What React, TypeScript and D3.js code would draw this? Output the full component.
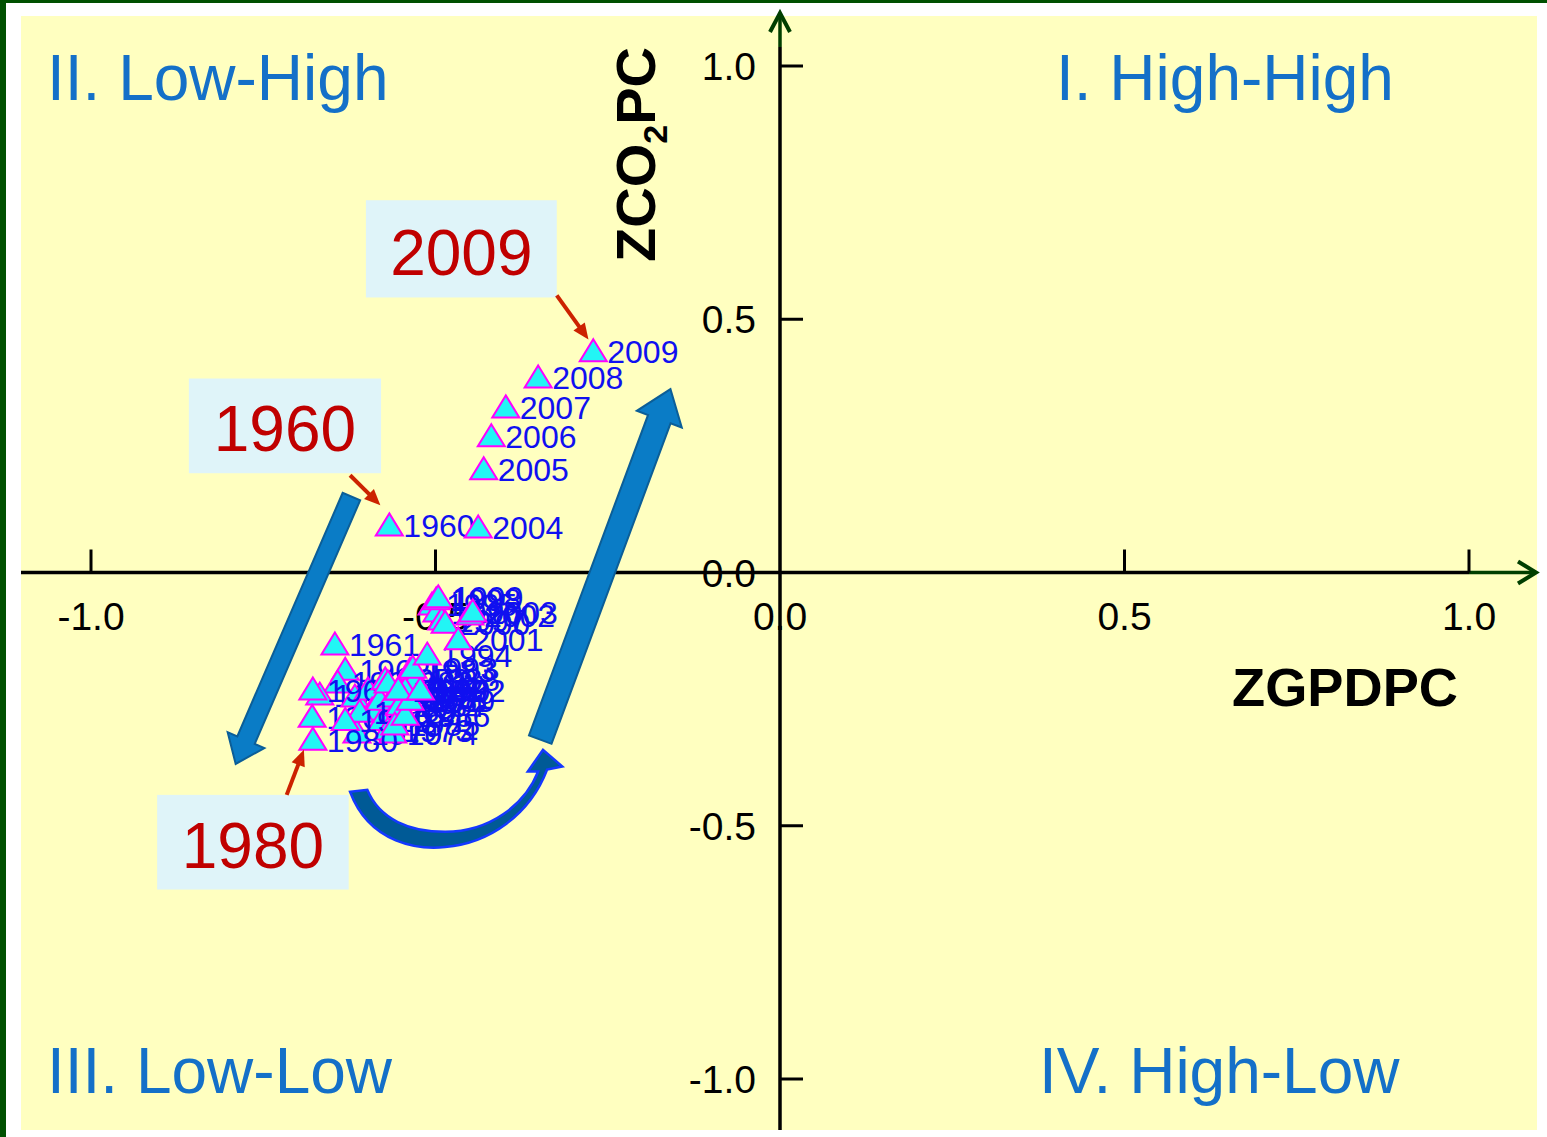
import React from "react";
import * as d3 from "d3";

// ---------- data ----------
const years: number[] = [
  1960, 1961, 1962, 1963, 1964, 1965, 1966, 1967, 1968, 1969,
  1970, 1971, 1972, 1973, 1974, 1975, 1976, 1977, 1978, 1979,
  1980, 1981, 1982, 1983, 1984, 1985, 1986, 1987, 1988, 1989,
  1990, 1991, 1992, 1993, 1994, 1995, 1996, 1997, 1998, 1999,
  2000, 2001, 2002, 2003, 2004, 2005, 2006, 2007, 2008, 2009,
];
const zgdppc: number[] = [
  -0.567, -0.646, -0.631, -0.642, -0.668, -0.617, -0.598, -0.678, -0.679, -0.592,
  -0.614, -0.578, -0.573, -0.569, -0.562, -0.581, -0.549, -0.562, -0.61, -0.631,
  -0.678, -0.541, -0.569, -0.537, -0.552, -0.559, -0.544, -0.552, -0.53, -0.537,
  -0.544, -0.554, -0.522, -0.533, -0.512, -0.505, -0.498, -0.491, -0.499, -0.496,
  -0.486, -0.467, -0.45, -0.446, -0.438, -0.43, -0.419, -0.398, -0.351, -0.271,
];
const zco2pc: number[] = [
  0.093, -0.142, -0.192, -0.217, -0.241, -0.245, -0.231, -0.231, -0.285, -0.271,
  -0.316, -0.291, -0.211, -0.31, -0.316, -0.251, -0.251, -0.245, -0.275, -0.291,
  -0.33, -0.245, -0.217, -0.192, -0.261, -0.3, -0.281, -0.231, -0.211, -0.251,
  -0.231, -0.231, -0.231, -0.188, -0.162, -0.063, -0.077, -0.093, -0.053, -0.049,
  -0.099, -0.132, -0.083, -0.077, 0.089, 0.204, 0.269, 0.326, 0.385, 0.437,
];
const xTickValues: number[] = [-1.0, -0.5, 0.0, 0.5, 1.0];
const yTickValues: number[] = [-1.0, -0.5, 0.0, 0.5, 1.0];
const quadrantLabels: string[] = ["II. Low-High", "I. High-High", "III. Low-Low", "IV. High-Low"];
const calloutYears: string[] = ["2009", "1960", "1980"];

// ---------- annotation geometry (in data units) ----------
const calloutBoxes = [
  { x0: -0.601, x1: -0.324, y0: 0.735, y1: 0.543 },
  { x0: -0.858, x1: -0.579, y0: 0.383, y1: 0.196 },
  { x0: -0.904, x1: -0.626, y0: -0.439, y1: -0.626 },
];
const calloutArrows = [
  { from: [-0.324, 0.547], to: [-0.278, 0.46] },
  { from: [-0.624, 0.192], to: [-0.58, 0.133] },
  { from: [-0.716, -0.439], to: [-0.691, -0.35] },
];
const bigArrows = [
  { tail: [-0.622, 0.15], tip: [-0.79, -0.378], w: 19, hw: 40, hl: 26 },
  { tail: [-0.348, -0.33], tip: [-0.159, 0.362], w: 24, hw: 48, hl: 32 },
];
const curvedArrow: number[][] = [
  [-0.624, -0.433], [-0.595, -0.538], [-0.522, -0.547], [-0.486, -0.542],
  [-0.421, -0.534], [-0.363, -0.478], [-0.338, -0.389],
  [-0.316, -0.383], [-0.344, -0.35], [-0.366, -0.393], [-0.351, -0.393],
  [-0.37, -0.458], [-0.421, -0.512], [-0.486, -0.512],
  [-0.537, -0.512], [-0.581, -0.488], [-0.599, -0.429],
];

const FONT = "'Liberation Sans', Arial, Helvetica, sans-serif";

export default function App() {
  const W = 1547;
  const H = 1137;
  const x = d3.scaleLinear().domain([-1, 1]).range([91, 1469]);
  const y = d3.scaleLinear().domain([-1, 1]).range([1079, 66]);
  const f1 = d3.format(".1f");
  const fmt = (v: number) => f1(v).replace("\u2212", "-");
  const x0 = x(0);
  const y0 = y(0);

  const plotL = 21, plotT = 16, plotR = 1537, plotB = 1130;

  const tri = (cx: number, cy: number) =>
    `M${cx},${cy - 12}L${cx + 13.5},${cy + 10}L${cx - 13.5},${cy + 10}Z`;

  const arrowPoly = (a: any) => {
    const tx = x(a.tail[0]), ty = y(a.tail[1]);
    const px = x(a.tip[0]), py = y(a.tip[1]);
    const dx = px - tx, dy = py - ty;
    const len = Math.hypot(dx, dy);
    const ux = dx / len, uy = dy / len;
    const nx = -uy, ny = ux;
    const bx = px - ux * a.hl, by = py - uy * a.hl;
    const pts = [
      [tx + nx * a.w / 2, ty + ny * a.w / 2],
      [bx + nx * a.w / 2, by + ny * a.w / 2],
      [bx + nx * a.hw / 2, by + ny * a.hw / 2],
      [px, py],
      [bx - nx * a.hw / 2, by - ny * a.hw / 2],
      [bx - nx * a.w / 2, by - ny * a.w / 2],
      [tx - nx * a.w / 2, ty - ny * a.w / 2],
    ];
    return "M" + pts.map((p) => p.join(",")).join("L") + "Z";
  };

  const cp = curvedArrow.map((p) => [x(p[0]), y(p[1])]);
  const P = (i: number) => `${cp[i][0]},${cp[i][1]}`;
  const curvedPath =
    `M${P(0)}C${P(1)} ${P(2)} ${P(3)}C${P(4)} ${P(5)} ${P(6)}` +
    `L${P(7)}L${P(8)}L${P(9)}L${P(10)}` +
    `C${P(11)} ${P(12)} ${P(13)}C${P(14)} ${P(15)} ${P(16)}Z`;

  const redHead = (a: any) => {
    const fx = x(a.from[0]), fy = y(a.from[1]);
    const tx = x(a.to[0]), ty = y(a.to[1]);
    const dx = tx - fx, dy = ty - fy;
    const len = Math.hypot(dx, dy);
    const ux = dx / len, uy = dy / len;
    const nx = -uy, ny = ux;
    const hl = 16, hw = 14;
    const bx = tx - ux * hl, by = ty - uy * hl;
    return {
      line: [fx, fy, bx + ux * 2, by + uy * 2],
      head: `M${tx},${ty}L${bx + nx * hw / 2},${by + ny * hw / 2}L${bx - nx * hw / 2},${by - ny * hw / 2}Z`,
    };
  };

  const quadPos = [
    { x: 47, y: 100 },
    { x: 1056, y: 100 },
    { x: 47, y: 1093 },
    { x: 1039, y: 1093 },
  ];

  return (
    <div style={{ position: "absolute", left: 0, top: 0 }}>
      <svg width={W} height={H} style={{ display: "block" }}>
        <rect x={0} y={0} width={W} height={H} fill="#ffffff" />
        <rect x={0} y={0} width={W} height={3} fill="#005000" />
        <rect x={0} y={0} width={6} height={H} fill="#005000" />
        <rect x={plotL} y={plotT} width={plotR - plotL} height={plotB - plotT} fill="#FFFFC0" />

        {/* quadrant labels */}
        {quadrantLabels.map((t, i) => (
          <text key={t} x={quadPos[i].x} y={quadPos[i].y} fontFamily={FONT} fontSize={64} fill="#1470C8">
            {t}
          </text>
        ))}

        {/* tick labels */}
        {xTickValues.map((v) => (
          <text key={"xl" + v} x={x(v)} y={y0 + 57} textAnchor="middle" fontFamily={FONT} fontSize={39} fill="#000">
            {fmt(v)}
          </text>
        ))}
        {yTickValues.map((v) => (
          <text key={"yl" + v} x={x0 - 24} y={y(v) + 14} textAnchor="end" fontFamily={FONT} fontSize={39} fill="#000">
            {fmt(v)}
          </text>
        ))}

        {/* axes */}
        <line x1={plotL} y1={y0} x2={x(1)} y2={y0} stroke="#000" strokeWidth={3.5} />
        <line x1={x(1)} y1={y0} x2={plotR - 2} y2={y0} stroke="#003F00" strokeWidth={3.5} />
        <path d={`M${plotR - 19},${y0 - 11}L${plotR - 1},${y0}L${plotR - 19},${y0 + 11}`} fill="none" stroke="#003F00" strokeWidth={4} />
        <line x1={x0} y1={plotB} x2={x0} y2={47} stroke="#000" strokeWidth={3.5} />
        <line x1={x0} y1={47} x2={x0} y2={14} stroke="#003F00" strokeWidth={3.5} />
        <path d={`M${x0 - 10},${32}L${x0},${13}L${x0 + 10},${32}`} fill="none" stroke="#003F00" strokeWidth={4} />
        {xTickValues.filter((v) => v !== 0).map((v) => (
          <line key={"xt" + v} x1={x(v)} y1={y0} x2={x(v)} y2={y0 - 23} stroke="#000" strokeWidth={3} />
        ))}
        {yTickValues.filter((v) => v !== 0).map((v) => (
          <line key={"yt" + v} x1={x0} y1={y(v)} x2={x0 + 23} y2={y(v)} stroke="#000" strokeWidth={3} />
        ))}

        {/* axis titles */}
        <text x={1232} y={706} fontFamily={FONT} fontWeight="bold" fontSize={54} fill="#000" textLength={226} lengthAdjust="spacingAndGlyphs">
          ZGPDPC
        </text>
        <text transform={`translate(655,262) rotate(-90)`} fontFamily={FONT} fontWeight="bold" fontSize={56} fill="#000">
          ZCO
          <tspan fontSize={34} dy={12}>2</tspan>
          <tspan dy={-12}>PC</tspan>
        </text>

        {/* data points */}
        {years.map((yr, i) => {
          const cx = x(zgdppc[i]);
          const cy = y(zco2pc[i]);
          return (
            <g key={yr}>
              <path d={tri(cx, cy)} fill="#22F5F5" stroke="#FF00FF" strokeWidth={2} />
              <text x={cx + 14} y={cy + 12} fontFamily={FONT} fontSize={32} fill="#1010F0">
                {yr}
              </text>
            </g>
          );
        })}

        {/* big arrows */}
        {bigArrows.map((a, i) => (
          <path key={"ba" + i} d={arrowPoly(a)} fill="#0A7CC6" stroke="#0B5E98" strokeWidth={2} strokeLinejoin="miter" />
        ))}
        <path d={curvedPath} fill="#005A96" stroke="#1438FF" strokeWidth={2.5} />

        {/* callouts */}
        {calloutBoxes.map((b, i) => {
          const bx0 = x(b.x0), bx1 = x(b.x1), by0 = y(b.y0), by1 = y(b.y1);
          return (
            <g key={"cb" + i}>
              <rect x={bx0} y={by0} width={bx1 - bx0} height={by1 - by0} fill="#DFF4F9" />
              <text x={(bx0 + bx1) / 2} y={by1 - 22} textAnchor="middle" fontFamily={FONT} fontSize={64} fill="#C00000">
                {calloutYears[i]}
              </text>
            </g>
          );
        })}
        {calloutArrows.map((a, i) => {
          const r = redHead(a);
          return (
            <g key={"ca" + i}>
              <line x1={r.line[0]} y1={r.line[1]} x2={r.line[2]} y2={r.line[3]} stroke="#CC2200" strokeWidth={4} />
              <path d={r.head} fill="#CC2200" />
            </g>
          );
        })}
      </svg>
    </div>
  );
}
